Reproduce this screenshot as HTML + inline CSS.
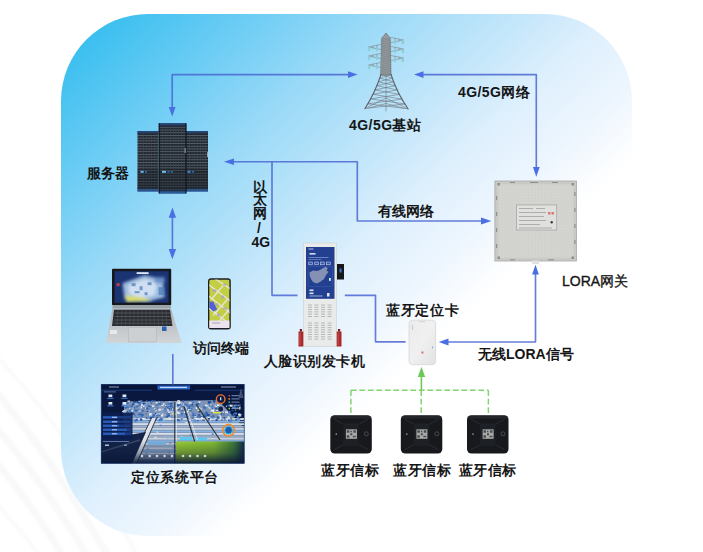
<!DOCTYPE html>
<html><head><meta charset="utf-8">
<style>
html,body{margin:0;padding:0;background:#fff;}
body{width:703px;height:552px;position:relative;overflow:hidden;font-family:"Liberation Sans",sans-serif;}
svg{position:absolute;left:0;top:0;}
.t{position:absolute;white-space:nowrap;font-size:14px;line-height:14px;font-weight:bold;color:#151515;}
</style></head><body>
<svg width="703" height="552" viewBox="0 0 703 552">
<defs>
<linearGradient id="bg" gradientUnits="userSpaceOnUse" x1="0" y1="0" x2="474.6" y2="514.5">
<stop offset="0.114" stop-color="#37beef"/>
<stop offset="0.133" stop-color="#3ec0f0"/>
<stop offset="0.311" stop-color="#80d2f6"/>
<stop offset="0.377" stop-color="#98d9f7"/>
<stop offset="0.55" stop-color="#cce9fb"/>
<stop offset="0.614" stop-color="#dff0fd"/>
<stop offset="0.706" stop-color="#eef6fe"/>
<stop offset="0.739" stop-color="#f6fafe"/>
<stop offset="0.782" stop-color="#ffffff"/>
</linearGradient>

<pattern id="rackgrid" patternUnits="userSpaceOnUse" width="2.7" height="2.7">
<rect width="2.7" height="2.7" fill="#1e242b"/>
<rect x="0" y="0" width="2.7" height="0.75" fill="#646e7a"/>
<rect x="0" y="0" width="0.6" height="2.7" fill="#424b56"/>
</pattern>
<linearGradient id="racktop" x1="0" y1="0" x2="0" y2="1">
<stop offset="0" stop-color="#24518f" stop-opacity="1"/>
<stop offset="0.03" stop-color="#1e3660" stop-opacity="0.7"/>
<stop offset="0.07" stop-color="#1a1e23" stop-opacity="0"/>
<stop offset="0.9" stop-color="#1a1e23" stop-opacity="0"/>
<stop offset="1" stop-color="#2a6ac0" stop-opacity="0.95"/>
</linearGradient>
<linearGradient id="lapbase" x1="0" y1="0" x2="0" y2="1">
<stop offset="0" stop-color="#aeb2b6"/>
<stop offset="1" stop-color="#d2d5d8"/>
</linearGradient>
<linearGradient id="scr" x1="0" y1="0" x2="1" y2="1">
<stop offset="0" stop-color="#1b3a8a"/>
<stop offset="1" stop-color="#2c5bb8"/>
</linearGradient>
<linearGradient id="green" x1="0" y1="0" x2="1" y2="0">
<stop offset="0" stop-color="#9ed232"/>
<stop offset="0.55" stop-color="#86c030"/>
<stop offset="0.85" stop-color="#3e7a3a"/>
<stop offset="1" stop-color="#12284a"/>
</linearGradient>
<linearGradient id="vign" x1="0" y1="0" x2="0" y2="1">
<stop offset="0" stop-color="#0a1838" stop-opacity="0"/>
<stop offset="0.55" stop-color="#0a1838" stop-opacity="0.35"/>
<stop offset="1" stop-color="#0a1838" stop-opacity="0.95"/>
</linearGradient>
<filter id="blur1" x="-20%" y="-20%" width="140%" height="140%"><feGaussianBlur stdDeviation="1.6"/></filter>
<filter id="blur05" x="-20%" y="-20%" width="140%" height="140%"><feGaussianBlur stdDeviation="0.6"/></filter>
<linearGradient id="cardg" x1="0" y1="0" x2="1" y2="1">
<stop offset="0" stop-color="#ececec"/>
<stop offset="0.5" stop-color="#f0f0f0"/>
<stop offset="1" stop-color="#e2e2e2"/>
</linearGradient>
<pattern id="speck" patternUnits="userSpaceOnUse" width="3.3" height="2.9">
<rect x="0.4" y="0.6" width="0.6" height="0.6" fill="#b4b4b0" opacity="0.7"/>
<rect x="2.1" y="2" width="0.5" height="0.5" fill="#e6e6e2" opacity="0.8"/>
</pattern>
</defs>
<g fill="none" stroke="#eef0f3" stroke-width="7" opacity="0.42" filter="url(#blur1)">
<path d="M-10,385 C30,430 70,490 110,560"/>
<path d="M-10,420 C25,460 60,510 90,560"/>
<path d="M-10,455 C20,490 45,525 65,560"/>
<path d="M-10,350 C40,400 90,470 140,560" stroke-width="3"/>
<path d="M-10,495 C10,520 30,540 42,560" stroke-width="3"/>
</g>
<rect x="61" y="14" width="571" height="522" rx="87" ry="87" fill="url(#bg)"/>


<g id="server">
<rect x="137.5" y="131" width="21" height="60.5" fill="url(#rackgrid)"/>
<rect x="137.5" y="131" width="21" height="60.5" fill="url(#racktop)"/>
<rect x="186" y="131" width="22" height="60.5" fill="url(#rackgrid)"/>
<rect x="186" y="131" width="22" height="60.5" fill="url(#racktop)"/>
<rect x="159" y="123.2" width="27" height="70.3" fill="url(#rackgrid)"/>
<rect x="159" y="123.2" width="27" height="70.3" fill="url(#racktop)"/>
<rect x="158.6" y="123.2" width="1.2" height="70.3" fill="#11151a"/>
<rect x="185.4" y="123.2" width="1.2" height="70.3" fill="#11151a"/>
<rect x="137.5" y="169" width="21" height="20" fill="#141a20" opacity="0.35"/>
<rect x="159" y="169" width="27" height="22" fill="#141a20" opacity="0.35"/>
<rect x="186" y="169" width="22" height="20" fill="#141a20" opacity="0.35"/>
<rect x="140.5" y="170.8" width="3.2" height="2" fill="#5cb4ee"/>
<rect x="145" y="171" width="2" height="1.6" fill="#2e6ab0"/>
<rect x="162" y="170.8" width="4" height="2" fill="#6cc0f2"/>
<rect x="167.5" y="171" width="2" height="1.6" fill="#2e6ab0"/>
<rect x="171" y="171" width="2" height="1.6" fill="#2e6ab0"/>
<rect x="187.5" y="170.8" width="3" height="2" fill="#3a8ae0"/>
<rect x="192" y="171" width="2" height="1.6" fill="#2e6ab0"/>
<rect x="184.6" y="148" width="1" height="5" fill="#9aa4ac"/>
<rect x="207.3" y="152" width="1" height="5" fill="#c8d0d6"/>
</g>

<g id="tower" fill="none" stroke-linecap="round">
<path d="M382,38 L386,33 L390,38 L391,75 L381,75 Z" fill="#959a9e" stroke="#6a7074" stroke-width="0.7"/>
<path d="M381.2,38.0 L390.8,40.2 M381.2,40.2 L390.8,38.0 M381.2,40.2 L390.8,42.4 M381.2,42.4 L390.8,40.2 M381.2,42.4 L390.8,44.6 M381.2,44.6 L390.8,42.4 M381.2,44.6 L390.8,46.8 M381.2,46.8 L390.8,44.6 M381.2,46.8 L390.8,49.0 M381.2,49.0 L390.8,46.8 M381.2,49.0 L390.8,51.2 M381.2,51.2 L390.8,49.0 M381.2,51.2 L390.8,53.4 M381.2,53.4 L390.8,51.2 M381.2,53.4 L390.8,55.6 M381.2,55.6 L390.8,53.4 M381.2,55.6 L390.8,57.8 M381.2,57.8 L390.8,55.6 M381.2,57.8 L390.8,60.0 M381.2,60.0 L390.8,57.8 M381.2,60.0 L390.8,62.2 M381.2,62.2 L390.8,60.0 M381.2,62.2 L390.8,64.4 M381.2,64.4 L390.8,62.2 M381.2,64.4 L390.8,66.6 M381.2,66.6 L390.8,64.4 M381.2,66.6 L390.8,68.8 M381.2,68.8 L390.8,66.6 M381.2,68.8 L390.8,71.0 M381.2,71.0 L390.8,68.8 M381.2,71.0 L390.8,73.2 M381.2,73.2 L390.8,71.0 M381.2,73.2 L390.8,75.4 M381.2,75.4 L390.8,73.2" stroke="#7b8185" stroke-width="0.45"/>
<path d="M391,37.5 L403.5,40.0 L391,42.5 M395,38.3 L395,41.7 M399,39.1 L399,40.9 M391,46.5 L403.5,49.0 L391,51.5 M395,47.3 L395,50.7 M399,48.1 L399,49.9 M391,55.5 L403.5,58.0 L391,60.5 M395,56.3 L395,59.7 M399,57.1 L399,58.9 M381,44.5 L368.5,47.0 L381,49.5 M377,45.3 L377,48.7 M373,46.1 L373,47.9 M381,53.5 L368.5,56.0 L381,58.5 M377,54.3 L377,57.7 M373,55.1 L373,56.9 M381,62.5 L368.5,65.0 L381,67.5 M377,63.3 L377,66.7 M373,64.1 L373,65.9" stroke="#7d8488" stroke-width="0.6"/>
<g fill="#8fd0d8" stroke="none"><rect x="401.6" y="40.3" width="2.6" height="4" rx="1.2"/><rect x="394" y="41.0" width="2.2" height="3.2" rx="1"/><rect x="401.6" y="49.3" width="2.6" height="4" rx="1.2"/><rect x="394" y="50.0" width="2.2" height="3.2" rx="1"/><rect x="401.6" y="58.3" width="2.6" height="4" rx="1.2"/><rect x="394" y="59.0" width="2.2" height="3.2" rx="1"/><rect x="367.8" y="47.3" width="2.6" height="4" rx="1.2"/><rect x="375.8" y="48.0" width="2.2" height="3.2" rx="1"/><rect x="367.8" y="56.3" width="2.6" height="4" rx="1.2"/><rect x="375.8" y="57.0" width="2.2" height="3.2" rx="1"/><rect x="367.8" y="65.3" width="2.6" height="4" rx="1.2"/><rect x="375.8" y="66.0" width="2.2" height="3.2" rx="1"/></g>
<path d="M386,74.5 L386,111 M381.0,74.5 L392.3,78.2 M391.0,74.5 L379.8,78.2 M379.8,78.2 L393.6,81.8 M392.3,78.2 L378.4,81.8 M378.4,81.8 L395.2,85.7 M393.6,81.8 L376.9,85.7 M376.9,85.7 L397.1,89.9 M395.2,85.7 L375.1,89.9 M375.1,89.9 L399.3,94.4 M397.1,89.9 L373.0,94.3 M373.0,94.3 L401.9,99.1 M399.3,94.4 L370.6,98.9 M370.6,98.9 L404.8,104.0 M401.9,99.1 L367.9,103.8 M367.9,103.8 L408.0,108.8 M404.8,104.0 L365.0,108.5 M386,98 L365,108.5 M386,98 L408,108.8 M386,103.5 L369,108 M386,103.5 L404,108.3" stroke="#6f767b" stroke-width="0.6"/><path d="M381,74.5 Q375,93 365,108.5 M391,74.5 Q397,93 408,108.8" stroke="#5e6469" stroke-width="1.1" fill="none"/>
</g>

<g id="laptop">
<rect x="112" y="268.8" width="59.2" height="36.4" fill="#17181c" rx="1"/>
<rect x="114.6" y="271.2" width="54" height="31.6" fill="#1a3372"/>
<svg x="114.6" y="271.2" width="54" height="31.6" overflow="hidden">
<g filter="url(#blur1)">
<path d="M8,12 L30,4 L48,8 L50,26 L30,31 L10,28 Z" fill="#9fbde0"/>
<path d="M14,14 L30,8 L42,12 L40,24 L24,27 L14,22 Z" fill="#d0e0f2"/>
<path d="M10,24 L28,26 L38,30 L12,31 Z" fill="#d8dc70"/>
<rect x="40" y="6" width="10" height="6" fill="#6a90c8"/>
</g>
<rect x="22" y="1" width="12" height="1.8" fill="#e0e8f8"/>
<rect x="2" y="12" width="3" height="3" fill="#c04050"/>
<g fill="#4a78b8" opacity="0.7"><rect x="17" y="12" width="4" height="3"/><rect x="25" y="15" width="3" height="4"/><rect x="33" y="11" width="4" height="3"/><rect x="20" y="20" width="5" height="2"/><rect x="30" y="21" width="3" height="3"/><rect x="44" y="16" width="6" height="8"/></g>
</svg>
<path d="M112.6,305.2 L170.8,305.2 L171,308.5 L112.4,308.5 Z" fill="#9ea2a6"/>
<path d="M112.4,308.5 L171,308.5 L181.6,343 L106.2,343 Z" fill="url(#lapbase)"/>
<path d="M114,309.8 L170,309.8 L172.5,326 L112,326 Z" fill="#2a2c31"/>
<path d="M115,313 L170.5,313 M114.6,316.5 L171,316.5 M114,320 L171.6,320 M113.5,323.2 L172,323.2" stroke="#6a6e74" stroke-width="0.6"/><path d="M118,310 L117,326 M122,310 L121.5,326 M126,310 L125.5,326 M130,310 L129.7,326 M134,310 L133.8,326 M138,310 L137.9,326 M142,310 L142,326 M146,310 L146.1,326 M150,310 L150.2,326 M154,310 L154.3,326 M158,310 L158.5,326 M162,310 L162.6,326 M166,310 L166.8,326" stroke="#55595f" stroke-width="0.5"/>
<rect x="128.5" y="327.5" width="27.7" height="14.5" fill="#cdd0d3" stroke="#b0b3b7" stroke-width="0.5"/>
<rect x="110" y="330" width="7" height="4" fill="#e6e8ea"/>
<rect x="162" y="326.5" width="4.5" height="4.5" fill="#2b5fb0"/>
</g>

<g id="phone">
<rect x="208" y="278.2" width="22.8" height="51.2" rx="3" fill="#1e1f24"/>
<svg x="209.2" y="279.5" width="20.4" height="48.6" overflow="hidden">
<rect width="20.4" height="48.6" rx="2" fill="#c2cf42"/>
<g stroke="#ece8f0" stroke-width="1.4" opacity="0.85">
<path d="M-2,4 L22,22 M-4,14 L22,34 M-4,26 L20,44 M4,-2 L22,10"/>
<path d="M2,20 L14,6 M4,36 L18,20 M8,44 L20,30"/>
</g>
<g fill="#a8a0c8" opacity="0.8">
<rect x="3" y="10" width="4" height="2"/><rect x="12" y="16" width="3" height="3"/><rect x="6" y="24" width="3" height="2"/><rect x="14" y="28" width="4" height="2"/><rect x="8" y="34" width="3" height="3"/><rect x="14" y="4" width="3" height="2"/>
</g>
<path d="M0,22 L4,22 L8,30 L4,32 L0,28 Z" fill="#5060d8"/>
<rect x="0" y="41" width="20.4" height="7.6" fill="#ece4ee"/>
<rect x="3" y="43" width="8" height="1" fill="#b0a0b8"/>
</svg>
</g>
<g id="kiosk">
<rect x="303.4" y="243" width="33.1" height="103.6" fill="#e9eaea" stroke="#cdd0d0" stroke-width="0.6"/>
<rect x="306" y="247" width="28.5" height="51.8" fill="#22408f"/>
<rect x="308.5" y="248.5" width="5" height="1" fill="#b8c6e8"/>
<rect x="309.5" y="253" width="6" height="1.6" fill="#d0dcf4"/>
<rect x="308.5" y="257" width="20" height="0.8" fill="#7d94cc"/>
<rect x="308.5" y="259" width="13" height="0.6" fill="#7d94cc"/>
<g fill="#3a58a8" stroke="#e5eaf5" stroke-width="0.5">
<rect x="308.8" y="262" width="3.6" height="2.8"/>
<rect x="314.8" y="262" width="3.6" height="2.8"/>
<rect x="320.6" y="262" width="3.6" height="2.8"/>
<rect x="326.6" y="262" width="3.6" height="2.8"/>
</g>
<rect x="308" y="266.5" width="24.5" height="20" rx="1.5" fill="none" stroke="#3f5fae" stroke-width="0.5"/>
<path d="M309.5,272.5 L313,270.5 L317,271 L320,270 L323,268 L326,266.8 L327.8,268.5 L326.5,270.5 L328.5,272 L326,275 L324,279 L320,282 L316.5,283.5 L313,282 L311,279 L309.8,276 Z" fill="#8591b4"/>
<rect x="329" y="278" width="1.8" height="2.8" fill="#e8eef8"/>
<rect x="309.5" y="289.5" width="4" height="1.6" fill="#dce4f4"/>
<rect x="309.5" y="292.5" width="4" height="1.6" fill="#dce4f4"/>
<rect x="309.5" y="295.5" width="13" height="1" fill="#9fb0dc"/>
<rect x="327" y="293" width="2.5" height="3.5" fill="#dfe6f4"/>
<rect x="337" y="264" width="7" height="15.5" fill="#15171b"/>
<rect x="339.5" y="268.5" width="2" height="4" fill="#3a7ad0"/>
<g stroke="#aeb2b4" stroke-width="0.9">
<path d="M308,305 H312 M308,307.3 H312 M308,309.6 H312 M308,311.9 H312 M308,314.2 H312 M308,316.5 H312 M308,323 H312 M308,325.3 H312 M308,327.6 H312 M308,329.9 H312 M308,332.2 H312 M308,334.5 H312 M308,336.8 H312 M308,339.1 H312"/>
<path transform="translate(6.4,0)" d="M308,305 H312 M308,307.3 H312 M308,309.6 H312 M308,311.9 H312 M308,314.2 H312 M308,316.5 H312 M308,323 H312 M308,325.3 H312 M308,327.6 H312 M308,329.9 H312 M308,332.2 H312 M308,334.5 H312 M308,336.8 H312 M308,339.1 H312"/>
<path transform="translate(13,0)" d="M308,305 H312 M308,307.3 H312 M308,309.6 H312 M308,311.9 H312 M308,314.2 H312 M308,316.5 H312 M308,323 H312 M308,325.3 H312 M308,327.6 H312 M308,329.9 H312 M308,332.2 H312 M308,334.5 H312 M308,336.8 H312 M308,339.1 H312"/>
<path transform="translate(19.6,0)" d="M308,305 H312 M308,307.3 H312 M308,309.6 H312 M308,311.9 H312 M308,314.2 H312 M308,316.5 H312 M308,323 H312 M308,325.3 H312 M308,327.6 H312 M308,329.9 H312 M308,332.2 H312 M308,334.5 H312 M308,336.8 H312 M308,339.1 H312"/>
</g>
<path d="M298.5,331.5 h4.8 v15 h-4.8 Z M336.7,331.5 h4.8 v15 h-4.8 Z" fill="#a82a2a"/>
<path d="M299.8,329 h2.2 v2.5 h-2.2 Z M338,329 h2.2 v2.5 h-2.2 Z" fill="#7a1c1c"/>
<path d="M299.5,333 h1 v12 h-1 Z M337.7,333 h1 v12 h-1 Z" fill="#d05050"/>
</g>
<g id="gateway">
<rect x="494.9" y="181" width="81.7" height="80" fill="#c9c9c5" stroke="#a8a8a4" stroke-width="0.8"/>
<rect x="498.3" y="184.3" width="75" height="73.4" fill="#d3d3d0"/>
<rect x="494.9" y="181" width="81.7" height="80" fill="url(#speck)"/>
<g fill="#8e8e8a">
<rect x="497.5" y="183" width="2.5" height="2.5"/><rect x="571.5" y="183" width="2.5" height="2.5"/>
<rect x="497.5" y="256.5" width="2.5" height="2.5"/><rect x="571.5" y="256.5" width="2.5" height="2.5"/>
<rect x="496" y="196" width="1.2" height="4"/><rect x="496" y="212" width="1.2" height="4"/><rect x="496" y="228" width="1.2" height="4"/><rect x="496" y="244" width="1.2" height="4"/>
<rect x="574.3" y="192" width="1.2" height="4"/><rect x="574.3" y="208" width="1.2" height="4"/><rect x="574.3" y="224" width="1.2" height="4"/><rect x="574.3" y="240" width="1.2" height="4"/>
<rect x="510" y="182" width="5" height="1"/><rect x="530" y="182" width="8" height="1"/><rect x="552" y="182" width="6" height="1"/>
<rect x="510" y="259.3" width="5" height="1"/><rect x="548" y="259.3" width="6" height="1"/>
</g>
<rect x="516.4" y="205" width="40.4" height="25" fill="#e0e0de" stroke="#8a8a88" stroke-width="0.5"/>
<path d="M519,208.5 H533 M536,208.5 H545 M519,212.5 H546 M519,216.5 H544 M519,220.5 H546 M519,224.5 H540 M519,228 H552" stroke="#7a7a7a" stroke-width="0.5"/>
<rect x="548" y="212" width="2.5" height="2.5" fill="#d97a70"/>
<rect x="551.5" y="212" width="2.5" height="2.5" fill="#d97a70"/>
<circle cx="551.7" cy="222.3" r="1.2" fill="#3a3a3a"/>
<rect x="532" y="260.5" width="7" height="3.5" fill="#e2e2e2"/>
</g>
<g id="card">
<rect x="409" y="320.2" width="26.6" height="44.5" rx="3.5" fill="url(#cardg)" stroke="#d2d2d2" stroke-width="0.7"/>
<rect x="419" y="321.2" width="6" height="0.9" fill="#d0d0d0"/>
<rect x="412" y="325" width="1" height="5" fill="#c8c8c8"/>
<rect x="421.3" y="351.5" width="2.2" height="2" fill="#e07878"/>
<rect x="432" y="346.5" width="1" height="2" fill="#8ab0d8"/>
</g>
<g transform="translate(330.3,415.3)">
<rect x="0" y="0" width="41.5" height="38.3" rx="4.5" fill="#17191d"/>
<path d="M4,4 L13,9 L28.5,9 L37.5,4 M4,34.3 L13,29.5 L28.5,29.5 L37.5,34.3" stroke="#2c2f35" stroke-width="0.9" fill="none"/>
<rect x="13" y="9" width="15.5" height="20.5" fill="#1d2025"/>
<rect x="15.6" y="14" width="11" height="9.5" fill="#a9aba9"/>
<path d="M16.5,15 h2.5 v2.5 h-2.5 Z M23,15 h2.5 v2.5 h-2.5 Z M16.5,20 h2.5 v2.5 h-2.5 Z M20,18 h2 v2 h-2 Z M22.5,20.5 h3 v1.5 h-3 Z M20,15.5 h1.5 v1.5 h-1.5 Z" fill="#4a4c50"/>
<circle cx="6" cy="18.8" r="0.9" fill="#8a8c90"/>
<circle cx="36" cy="18.5" r="2" fill="none" stroke="#5a5c60" stroke-width="0.7"/>
<rect x="0.5" y="0.5" width="40.5" height="3" rx="2" fill="#2a2d33" opacity="0.6"/>
</g>
<g transform="translate(400.8,415.3)">
<rect x="0" y="0" width="41.5" height="38.3" rx="4.5" fill="#17191d"/>
<path d="M4,4 L13,9 L28.5,9 L37.5,4 M4,34.3 L13,29.5 L28.5,29.5 L37.5,34.3" stroke="#2c2f35" stroke-width="0.9" fill="none"/>
<rect x="13" y="9" width="15.5" height="20.5" fill="#1d2025"/>
<rect x="15.6" y="14" width="11" height="9.5" fill="#a9aba9"/>
<path d="M16.5,15 h2.5 v2.5 h-2.5 Z M23,15 h2.5 v2.5 h-2.5 Z M16.5,20 h2.5 v2.5 h-2.5 Z M20,18 h2 v2 h-2 Z M22.5,20.5 h3 v1.5 h-3 Z M20,15.5 h1.5 v1.5 h-1.5 Z" fill="#4a4c50"/>
<circle cx="6" cy="18.8" r="0.9" fill="#8a8c90"/>
<circle cx="36" cy="18.5" r="2" fill="none" stroke="#5a5c60" stroke-width="0.7"/>
<rect x="0.5" y="0.5" width="40.5" height="3" rx="2" fill="#2a2d33" opacity="0.6"/>
</g>
<g transform="translate(467,415.3)">
<rect x="0" y="0" width="41.5" height="38.3" rx="4.5" fill="#17191d"/>
<path d="M4,4 L13,9 L28.5,9 L37.5,4 M4,34.3 L13,29.5 L28.5,29.5 L37.5,34.3" stroke="#2c2f35" stroke-width="0.9" fill="none"/>
<rect x="13" y="9" width="15.5" height="20.5" fill="#1d2025"/>
<rect x="15.6" y="14" width="11" height="9.5" fill="#a9aba9"/>
<path d="M16.5,15 h2.5 v2.5 h-2.5 Z M23,15 h2.5 v2.5 h-2.5 Z M16.5,20 h2.5 v2.5 h-2.5 Z M20,18 h2 v2 h-2 Z M22.5,20.5 h3 v1.5 h-3 Z M20,15.5 h1.5 v1.5 h-1.5 Z" fill="#4a4c50"/>
<circle cx="6" cy="18.8" r="0.9" fill="#8a8c90"/>
<circle cx="36" cy="18.5" r="2" fill="none" stroke="#5a5c60" stroke-width="0.7"/>
<rect x="0.5" y="0.5" width="40.5" height="3" rx="2" fill="#2a2d33" opacity="0.6"/>
</g>

<g id="dash">
<rect x="101.2" y="384.3" width="143" height="79" fill="#0a1840"/>
<svg x="101.2" y="384.3" width="143" height="79" overflow="hidden"><g transform="translate(-101.2,-384.3)">
<path d="M124,402 L218,400 L246,430 L246,464 L124,464 Z" fill="#7f93b4"/>
<g><rect x="128" y="418.0" width="118" height="2.0" fill="#c9d1dc"/><rect x="128" y="420.8" width="118" height="1.6" fill="#86b2e0"/><rect x="128" y="423.2" width="118" height="1.8" fill="#d9dfe8"/><rect x="128" y="425.8" width="118" height="1.2" fill="#9fb0c8"/><rect x="128" y="427.8" width="118" height="2.0" fill="#c9d1dc"/><rect x="128" y="430.6" width="118" height="1.6" fill="#86b2e0"/><rect x="128" y="433.0" width="118" height="1.8" fill="#d9dfe8"/><rect x="128" y="435.6" width="118" height="1.2" fill="#9fb0c8"/><rect x="128" y="437.6" width="118" height="2.0" fill="#c9d1dc"/><rect x="128" y="440.4" width="118" height="1.6" fill="#86b2e0"/><rect x="128" y="442.8" width="118" height="1.8" fill="#d9dfe8"/><rect x="128" y="445.4" width="118" height="1.2" fill="#9fb0c8"/><rect x="128" y="447.4" width="118" height="2.0" fill="#c9d1dc"/><rect x="128" y="450.2" width="118" height="1.6" fill="#86b2e0"/><rect x="128" y="452.6" width="118" height="1.8" fill="#d9dfe8"/><rect x="128" y="455.2" width="118" height="1.2" fill="#9fb0c8"/><rect x="128" y="457.2" width="118" height="2.0" fill="#c9d1dc"/><rect x="128" y="460.0" width="118" height="1.6" fill="#86b2e0"/><rect x="128" y="462.4" width="118" height="1.8" fill="#d9dfe8"/></g>
<g filter="url(#blur05)"><rect x="175.4" y="411.2" width="2.8" height="1.5" fill="#e2eaf2"/><rect x="191.3" y="403.7" width="1.9" height="1.7" fill="#1f4a98"/><rect x="133.1" y="406.1" width="1.0" height="1.9" fill="#b8c4d4"/><rect x="126.9" y="419.6" width="2.9" height="1.7" fill="#b8c4d4"/><rect x="140.6" y="400.3" width="2.0" height="0.9" fill="#2f62b0"/><rect x="150.5" y="400.6" width="1.8" height="1.4" fill="#1f4a98"/><rect x="183.3" y="412.8" width="1.9" height="1.7" fill="#5a8ad0"/><rect x="154.8" y="420.0" width="3.0" height="2.0" fill="#b8c4d4"/><rect x="159.2" y="404.6" width="1.4" height="0.9" fill="#1f4a98"/><rect x="169.2" y="416.9" width="1.7" height="2.1" fill="#f4f6fa"/><rect x="122.1" y="404.2" width="2.8" height="1.5" fill="#7aa0d0"/><rect x="168.9" y="401.5" width="2.2" height="1.9" fill="#3f74c0"/><rect x="132.3" y="406.7" width="2.9" height="1.9" fill="#2f62b0"/><rect x="151.1" y="402.0" width="0.9" height="1.9" fill="#2f62b0"/><rect x="188.0" y="408.9" width="1.2" height="1.8" fill="#2f62b0"/><rect x="198.0" y="402.3" width="1.7" height="1.1" fill="#3f74c0"/><rect x="236.6" y="416.1" width="1.5" height="2.0" fill="#3f74c0"/><rect x="168.5" y="417.1" width="2.2" height="0.9" fill="#d8e070"/><rect x="147.2" y="405.2" width="2.5" height="1.3" fill="#3f74c0"/><rect x="130.7" y="401.8" width="2.1" height="1.1" fill="#e2eaf2"/><rect x="165.9" y="409.1" width="2.9" height="1.5" fill="#e2eaf2"/><rect x="140.2" y="418.2" width="2.6" height="1.1" fill="#2f62b0"/><rect x="209.3" y="418.8" width="1.2" height="2.1" fill="#f4f6fa"/><rect x="193.2" y="408.4" width="1.0" height="0.9" fill="#7aa0d0"/><rect x="150.1" y="414.1" width="1.4" height="2.0" fill="#e2eaf2"/><rect x="156.6" y="403.5" width="2.4" height="0.9" fill="#3f74c0"/><rect x="188.0" y="417.0" width="2.2" height="1.2" fill="#7aa0d0"/><rect x="146.1" y="400.3" width="1.4" height="1.4" fill="#2f62b0"/><rect x="142.8" y="407.4" width="2.1" height="1.0" fill="#3f74c0"/><rect x="227.1" y="419.6" width="2.2" height="1.8" fill="#e2eaf2"/><rect x="138.6" y="400.7" width="0.8" height="2.1" fill="#b8c4d4"/><rect x="197.1" y="409.6" width="2.4" height="1.2" fill="#d8e070"/><rect x="130.9" y="410.9" width="2.4" height="2.1" fill="#1f4a98"/><rect x="205.0" y="415.9" width="2.8" height="1.3" fill="#b8c4d4"/><rect x="228.3" y="417.4" width="1.7" height="1.9" fill="#f4f6fa"/><rect x="189.6" y="412.5" width="1.6" height="1.6" fill="#b8c4d4"/><rect x="131.5" y="412.8" width="3.0" height="2.0" fill="#1f4a98"/><rect x="167.8" y="414.7" width="2.1" height="1.4" fill="#1f4a98"/><rect x="131.9" y="415.0" width="0.9" height="1.6" fill="#5a8ad0"/><rect x="149.2" y="414.0" width="1.9" height="1.7" fill="#7aa0d0"/><rect x="152.2" y="400.2" width="1.5" height="1.7" fill="#3f74c0"/><rect x="142.0" y="418.1" width="2.3" height="1.4" fill="#f4f6fa"/><rect x="160.6" y="413.3" width="1.2" height="1.4" fill="#1f4a98"/><rect x="229.9" y="417.6" width="1.6" height="1.6" fill="#3f74c0"/><rect x="138.1" y="409.9" width="2.6" height="2.0" fill="#b8c4d4"/><rect x="234.1" y="405.5" width="1.2" height="1.4" fill="#3f74c0"/><rect x="147.3" y="408.3" width="2.2" height="1.5" fill="#3f74c0"/><rect x="221.0" y="419.6" width="1.8" height="0.9" fill="#2f62b0"/><rect x="205.6" y="411.4" width="1.5" height="1.9" fill="#2f62b0"/><rect x="138.0" y="409.1" width="0.9" height="2.0" fill="#3f74c0"/><rect x="138.6" y="400.9" width="2.2" height="1.4" fill="#b8c4d4"/><rect x="199.3" y="416.1" width="2.9" height="1.8" fill="#2f62b0"/><rect x="178.1" y="403.6" width="0.8" height="1.5" fill="#b8c4d4"/><rect x="143.1" y="405.4" width="1.6" height="1.8" fill="#e2eaf2"/><rect x="194.5" y="415.1" width="1.7" height="1.9" fill="#f4f6fa"/><rect x="132.3" y="418.7" width="2.4" height="1.0" fill="#5a8ad0"/><rect x="195.8" y="418.2" width="1.6" height="1.6" fill="#f4f6fa"/><rect x="216.0" y="418.9" width="1.8" height="1.7" fill="#3f74c0"/><rect x="207.2" y="416.4" width="2.2" height="1.8" fill="#3f74c0"/><rect x="228.2" y="419.6" width="3.0" height="1.6" fill="#1f4a98"/><rect x="159.8" y="418.2" width="2.7" height="1.3" fill="#2f62b0"/><rect x="174.0" y="411.0" width="2.5" height="1.5" fill="#2f62b0"/><rect x="161.5" y="415.8" width="1.1" height="1.0" fill="#e2eaf2"/><rect x="207.4" y="416.8" width="2.3" height="2.1" fill="#e2eaf2"/><rect x="148.1" y="410.5" width="1.4" height="1.8" fill="#b8c4d4"/><rect x="183.7" y="416.9" width="2.0" height="1.2" fill="#5a8ad0"/><rect x="221.7" y="418.0" width="1.3" height="2.0" fill="#7aa0d0"/><rect x="183.9" y="411.5" width="1.2" height="1.6" fill="#e2eaf2"/><rect x="193.4" y="400.6" width="2.9" height="1.5" fill="#5a8ad0"/><rect x="216.5" y="411.3" width="1.9" height="1.8" fill="#2f62b0"/><rect x="185.6" y="408.3" width="2.9" height="2.1" fill="#3f74c0"/><rect x="177.8" y="402.5" width="1.8" height="1.9" fill="#f4f6fa"/><rect x="178.2" y="406.3" width="1.2" height="1.7" fill="#7aa0d0"/><rect x="137.3" y="415.6" width="0.9" height="1.1" fill="#3f74c0"/><rect x="203.1" y="406.4" width="1.6" height="1.7" fill="#2f62b0"/><rect x="208.2" y="402.5" width="1.9" height="1.2" fill="#2f62b0"/><rect x="184.6" y="408.7" width="1.6" height="1.4" fill="#e2eaf2"/><rect x="140.8" y="404.1" width="2.2" height="1.7" fill="#e2eaf2"/><rect x="222.4" y="412.2" width="2.7" height="1.1" fill="#1f4a98"/><rect x="217.6" y="418.1" width="1.5" height="1.2" fill="#7aa0d0"/><rect x="147.7" y="420.0" width="2.8" height="1.0" fill="#3f74c0"/><rect x="207.7" y="405.2" width="1.0" height="2.0" fill="#5a8ad0"/><rect x="169.5" y="413.7" width="0.8" height="1.1" fill="#b8c4d4"/><rect x="229.5" y="419.4" width="1.1" height="1.5" fill="#1f4a98"/><rect x="181.3" y="413.7" width="1.2" height="0.9" fill="#2f62b0"/><rect x="126.4" y="411.0" width="1.9" height="1.6" fill="#2f62b0"/><rect x="143.8" y="404.1" width="2.6" height="2.2" fill="#7aa0d0"/><rect x="133.2" y="401.2" width="2.9" height="1.4" fill="#1f4a98"/><rect x="160.6" y="409.3" width="1.9" height="1.4" fill="#e2eaf2"/><rect x="123.6" y="414.0" width="2.7" height="1.1" fill="#5a8ad0"/><rect x="209.2" y="408.1" width="1.2" height="1.0" fill="#e2eaf2"/><rect x="123.8" y="417.9" width="2.6" height="1.8" fill="#f4f6fa"/><rect x="196.3" y="408.1" width="2.1" height="1.5" fill="#7aa0d0"/><rect x="217.0" y="405.2" width="2.8" height="1.8" fill="#1f4a98"/><rect x="218.1" y="408.1" width="2.8" height="2.0" fill="#b8c4d4"/><rect x="212.5" y="415.3" width="1.7" height="1.8" fill="#2f62b0"/><rect x="162.3" y="409.4" width="0.8" height="1.3" fill="#b8c4d4"/><rect x="195.6" y="404.6" width="2.9" height="1.7" fill="#3f74c0"/><rect x="199.9" y="411.4" width="2.0" height="1.3" fill="#d8e070"/><rect x="197.8" y="414.0" width="2.5" height="2.2" fill="#2f62b0"/><rect x="194.6" y="414.8" width="1.4" height="1.4" fill="#2f62b0"/><rect x="145.1" y="407.5" width="1.0" height="1.2" fill="#f4f6fa"/><rect x="186.9" y="410.2" width="2.9" height="1.6" fill="#d8e070"/><rect x="197.3" y="416.2" width="1.0" height="1.6" fill="#1f4a98"/><rect x="127.3" y="418.6" width="1.2" height="1.5" fill="#2f62b0"/><rect x="180.5" y="412.2" width="0.9" height="2.1" fill="#5a8ad0"/><rect x="184.2" y="412.0" width="1.6" height="1.2" fill="#b8c4d4"/><rect x="188.2" y="405.7" width="2.4" height="1.2" fill="#2f62b0"/><rect x="150.9" y="400.9" width="1.1" height="1.9" fill="#5a8ad0"/><rect x="227.9" y="415.0" width="0.9" height="2.2" fill="#7aa0d0"/><rect x="130.7" y="418.1" width="1.7" height="1.5" fill="#7aa0d0"/><rect x="150.8" y="410.5" width="2.9" height="1.8" fill="#5a8ad0"/><rect x="237.5" y="416.3" width="2.1" height="1.0" fill="#b8c4d4"/><rect x="175.8" y="404.1" width="0.9" height="1.5" fill="#2f62b0"/><rect x="174.3" y="413.4" width="1.8" height="1.2" fill="#e2eaf2"/><rect x="171.5" y="415.6" width="2.0" height="2.2" fill="#7aa0d0"/><rect x="208.6" y="404.8" width="1.1" height="2.0" fill="#1f4a98"/><rect x="195.7" y="407.2" width="1.4" height="1.8" fill="#e2eaf2"/><rect x="191.8" y="412.7" width="2.5" height="1.1" fill="#3f74c0"/><rect x="237.6" y="418.3" width="2.7" height="0.9" fill="#2f62b0"/><rect x="154.0" y="408.5" width="2.2" height="0.9" fill="#e2eaf2"/><rect x="130.6" y="401.7" width="2.3" height="1.6" fill="#b8c4d4"/><rect x="166.0" y="409.6" width="1.3" height="1.3" fill="#1f4a98"/><rect x="136.1" y="416.2" width="2.2" height="1.9" fill="#3f74c0"/><rect x="172.1" y="405.2" width="2.6" height="1.3" fill="#b8c4d4"/><rect x="238.7" y="406.5" width="2.0" height="1.8" fill="#7aa0d0"/><rect x="172.5" y="407.4" width="1.0" height="2.0" fill="#2f62b0"/><rect x="131.8" y="411.3" width="1.9" height="1.8" fill="#3f74c0"/><rect x="213.5" y="401.5" width="1.3" height="1.7" fill="#2f62b0"/><rect x="157.8" y="414.5" width="2.3" height="1.2" fill="#2f62b0"/><rect x="164.2" y="414.5" width="1.6" height="1.0" fill="#b8c4d4"/><rect x="189.2" y="418.4" width="2.9" height="2.1" fill="#5a8ad0"/><rect x="216.8" y="406.1" width="1.5" height="1.4" fill="#7aa0d0"/><rect x="227.6" y="405.0" width="1.6" height="1.3" fill="#5a8ad0"/><rect x="168.7" y="407.8" width="1.2" height="1.6" fill="#1f4a98"/><rect x="185.8" y="416.7" width="2.0" height="1.0" fill="#1f4a98"/><rect x="225.9" y="405.6" width="0.8" height="1.5" fill="#e2eaf2"/><rect x="189.0" y="419.3" width="2.2" height="1.9" fill="#2f62b0"/><rect x="186.5" y="415.8" width="1.0" height="0.9" fill="#1f4a98"/><rect x="196.8" y="402.9" width="2.4" height="1.7" fill="#3f74c0"/><rect x="148.0" y="415.3" width="1.9" height="1.9" fill="#5a8ad0"/><rect x="161.9" y="419.4" width="2.3" height="1.5" fill="#e2eaf2"/><rect x="207.1" y="414.2" width="2.8" height="1.4" fill="#1f4a98"/><rect x="200.7" y="417.1" width="2.6" height="2.0" fill="#f4f6fa"/><rect x="235.0" y="412.8" width="2.0" height="1.8" fill="#1f4a98"/><rect x="171.8" y="408.4" width="1.1" height="1.8" fill="#d8e070"/><rect x="166.3" y="403.4" width="1.2" height="1.4" fill="#3f74c0"/><rect x="158.4" y="402.3" width="2.2" height="1.9" fill="#2f62b0"/><rect x="129.4" y="409.2" width="2.1" height="2.1" fill="#2f62b0"/><rect x="134.8" y="403.7" width="1.3" height="1.1" fill="#b8c4d4"/><rect x="192.2" y="404.5" width="1.2" height="1.2" fill="#2f62b0"/><rect x="211.4" y="406.2" width="2.0" height="1.9" fill="#5a8ad0"/><rect x="152.7" y="417.7" width="2.8" height="1.3" fill="#e2eaf2"/><rect x="234.9" y="409.7" width="1.3" height="0.9" fill="#7aa0d0"/><rect x="216.6" y="407.7" width="2.0" height="1.5" fill="#3f74c0"/><rect x="238.8" y="413.2" width="1.3" height="0.8" fill="#5a8ad0"/><rect x="165.8" y="415.9" width="2.4" height="1.6" fill="#2f62b0"/><rect x="140.5" y="406.4" width="1.4" height="2.0" fill="#e2eaf2"/><rect x="197.2" y="419.9" width="1.4" height="1.5" fill="#2f62b0"/><rect x="212.9" y="400.0" width="2.6" height="2.0" fill="#1f4a98"/><rect x="131.7" y="405.4" width="2.4" height="0.9" fill="#5a8ad0"/><rect x="177.3" y="419.1" width="2.1" height="2.0" fill="#3f74c0"/><rect x="215.1" y="408.3" width="2.8" height="0.9" fill="#1f4a98"/><rect x="146.6" y="410.9" width="2.0" height="1.0" fill="#1f4a98"/><rect x="158.7" y="406.2" width="1.0" height="1.2" fill="#5a8ad0"/><rect x="206.4" y="407.2" width="2.3" height="0.9" fill="#5a8ad0"/><rect x="176.5" y="419.3" width="2.6" height="1.7" fill="#2f62b0"/><rect x="166.5" y="414.2" width="1.3" height="1.6" fill="#5a8ad0"/><rect x="123.2" y="419.8" width="2.6" height="1.1" fill="#b8c4d4"/><rect x="156.3" y="407.5" width="2.0" height="1.2" fill="#3f74c0"/><rect x="168.3" y="413.3" width="1.4" height="1.1" fill="#1f4a98"/><rect x="160.9" y="418.9" width="2.0" height="1.8" fill="#3f74c0"/><rect x="138.6" y="401.9" width="2.3" height="1.8" fill="#2f62b0"/><rect x="169.5" y="416.7" width="2.1" height="0.9" fill="#3f74c0"/><rect x="140.5" y="402.5" width="1.7" height="0.9" fill="#7aa0d0"/><rect x="172.4" y="410.2" width="2.2" height="1.9" fill="#1f4a98"/><rect x="167.5" y="406.6" width="1.7" height="0.8" fill="#5a8ad0"/><rect x="204.6" y="419.6" width="2.5" height="1.7" fill="#b8c4d4"/><rect x="124.2" y="406.6" width="1.6" height="1.7" fill="#2f62b0"/><rect x="166.6" y="410.2" width="2.5" height="2.0" fill="#b8c4d4"/><rect x="140.7" y="415.3" width="2.8" height="1.6" fill="#3f74c0"/><rect x="181.0" y="402.8" width="2.4" height="2.2" fill="#e2eaf2"/><rect x="206.4" y="416.7" width="1.2" height="2.1" fill="#b8c4d4"/><rect x="145.4" y="401.7" width="1.3" height="1.6" fill="#b8c4d4"/><rect x="160.8" y="418.6" width="1.6" height="1.4" fill="#2f62b0"/><rect x="228.7" y="410.9" width="2.0" height="1.6" fill="#3f74c0"/><rect x="229.3" y="419.8" width="2.6" height="1.6" fill="#2f62b0"/><rect x="219.3" y="405.8" width="2.8" height="1.1" fill="#e2eaf2"/><rect x="186.6" y="401.5" width="0.9" height="1.1" fill="#7aa0d0"/><rect x="232.9" y="413.2" width="1.5" height="1.7" fill="#1f4a98"/><rect x="167.0" y="411.8" width="2.6" height="0.8" fill="#2f62b0"/><rect x="177.2" y="402.9" width="1.7" height="1.6" fill="#2f62b0"/><rect x="183.3" y="405.3" width="2.0" height="1.3" fill="#b8c4d4"/><rect x="126.5" y="413.4" width="1.1" height="2.1" fill="#e2eaf2"/><rect x="177.4" y="408.2" width="2.2" height="1.8" fill="#1f4a98"/><rect x="210.7" y="409.7" width="3.0" height="2.0" fill="#f4f6fa"/><rect x="170.3" y="408.7" width="2.0" height="2.1" fill="#e2eaf2"/><rect x="184.0" y="408.6" width="2.8" height="1.2" fill="#2f62b0"/><rect x="207.6" y="418.0" width="2.4" height="1.6" fill="#1f4a98"/><rect x="158.0" y="411.9" width="1.0" height="1.0" fill="#5a8ad0"/><rect x="181.3" y="407.9" width="0.9" height="1.8" fill="#e2eaf2"/><rect x="150.2" y="406.1" width="1.7" height="1.1" fill="#2f62b0"/><rect x="229.5" y="419.3" width="2.3" height="2.0" fill="#5a8ad0"/><rect x="217.0" y="404.4" width="2.4" height="1.6" fill="#f4f6fa"/><rect x="133.6" y="415.8" width="1.1" height="1.6" fill="#7aa0d0"/><rect x="122.1" y="404.9" width="1.5" height="1.3" fill="#2f62b0"/><rect x="227.6" y="416.3" width="1.7" height="1.3" fill="#e2eaf2"/><rect x="127.4" y="400.6" width="2.8" height="1.2" fill="#e2eaf2"/><rect x="232.2" y="419.5" width="1.8" height="1.1" fill="#3f74c0"/><rect x="230.9" y="417.9" width="1.2" height="2.0" fill="#3f74c0"/><rect x="177.8" y="403.4" width="2.7" height="2.2" fill="#3f74c0"/><rect x="196.6" y="403.8" width="2.7" height="0.9" fill="#2f62b0"/><rect x="207.6" y="406.3" width="2.8" height="2.0" fill="#b8c4d4"/><rect x="137.9" y="413.9" width="2.9" height="1.4" fill="#2f62b0"/><rect x="148.3" y="406.1" width="2.4" height="1.1" fill="#2f62b0"/><rect x="149.8" y="413.3" width="2.5" height="1.3" fill="#b8c4d4"/><rect x="226.4" y="411.8" width="1.3" height="1.2" fill="#7aa0d0"/><rect x="200.7" y="405.5" width="2.2" height="0.9" fill="#7aa0d0"/><rect x="174.0" y="410.6" width="2.0" height="0.9" fill="#e2eaf2"/><rect x="155.6" y="405.0" width="2.6" height="0.9" fill="#3f74c0"/><rect x="211.2" y="404.9" width="1.4" height="1.6" fill="#2f62b0"/><rect x="227.8" y="419.8" width="0.9" height="1.4" fill="#1f4a98"/><rect x="167.4" y="418.6" width="1.9" height="1.1" fill="#e2eaf2"/><rect x="198.1" y="407.2" width="2.2" height="1.9" fill="#e2eaf2"/><rect x="181.7" y="416.9" width="2.3" height="1.5" fill="#7aa0d0"/><rect x="142.5" y="415.6" width="1.2" height="1.7" fill="#3f74c0"/><rect x="174.0" y="415.5" width="2.5" height="1.9" fill="#3f74c0"/><rect x="179.7" y="404.4" width="2.1" height="1.5" fill="#2f62b0"/><rect x="192.4" y="414.3" width="2.1" height="2.0" fill="#2f62b0"/><rect x="139.9" y="400.4" width="1.9" height="1.4" fill="#5a8ad0"/><rect x="153.0" y="416.0" width="1.0" height="2.1" fill="#e2eaf2"/><rect x="186.1" y="415.8" width="1.3" height="1.0" fill="#3f74c0"/><rect x="127.0" y="406.3" width="2.2" height="1.5" fill="#3f74c0"/><rect x="191.5" y="401.8" width="2.6" height="1.0" fill="#3f74c0"/><rect x="140.9" y="413.8" width="2.6" height="1.9" fill="#2f62b0"/><rect x="170.5" y="407.3" width="1.3" height="2.2" fill="#2f62b0"/><rect x="179.8" y="415.2" width="3.0" height="1.0" fill="#5a8ad0"/><rect x="209.9" y="400.8" width="1.3" height="2.0" fill="#2f62b0"/><rect x="168.4" y="406.0" width="1.7" height="0.9" fill="#2f62b0"/><rect x="239.5" y="415.3" width="2.4" height="1.1" fill="#3f74c0"/><rect x="187.1" y="404.8" width="1.8" height="2.1" fill="#5a8ad0"/><rect x="161.8" y="419.6" width="2.1" height="0.9" fill="#5a8ad0"/><rect x="198.7" y="401.2" width="1.6" height="1.8" fill="#f4f6fa"/><rect x="191.7" y="417.7" width="1.8" height="1.4" fill="#1f4a98"/><rect x="167.0" y="415.6" width="1.3" height="1.3" fill="#2f62b0"/><rect x="186.8" y="403.3" width="1.2" height="1.1" fill="#5a8ad0"/><rect x="158.4" y="408.9" width="3.0" height="1.8" fill="#f4f6fa"/><rect x="146.1" y="407.7" width="1.0" height="1.8" fill="#3f74c0"/><rect x="154.4" y="400.4" width="1.2" height="1.2" fill="#5a8ad0"/><rect x="231.0" y="414.3" width="1.4" height="1.3" fill="#2f62b0"/><rect x="232.5" y="407.2" width="2.5" height="1.8" fill="#f4f6fa"/><rect x="124.4" y="406.4" width="1.6" height="0.9" fill="#f4f6fa"/><rect x="160.4" y="415.4" width="1.9" height="0.9" fill="#5a8ad0"/><rect x="150.1" y="400.8" width="1.1" height="1.6" fill="#2f62b0"/><rect x="158.8" y="408.5" width="2.0" height="1.0" fill="#b8c4d4"/><rect x="152.7" y="414.5" width="2.3" height="1.0" fill="#3f74c0"/><rect x="155.1" y="414.3" width="1.7" height="1.3" fill="#f4f6fa"/><rect x="148.7" y="405.8" width="1.6" height="1.1" fill="#2f62b0"/><rect x="124.9" y="412.6" width="2.0" height="1.9" fill="#7aa0d0"/><rect x="157.2" y="413.4" width="2.8" height="1.1" fill="#b8c4d4"/><rect x="200.7" y="419.1" width="2.7" height="1.1" fill="#b8c4d4"/><rect x="132.6" y="408.6" width="1.7" height="0.9" fill="#5a8ad0"/><rect x="160.7" y="409.9" width="1.4" height="1.0" fill="#5a8ad0"/><rect x="178.1" y="403.3" width="2.3" height="1.1" fill="#2f62b0"/><rect x="162.3" y="408.4" width="1.1" height="1.6" fill="#b8c4d4"/><rect x="187.3" y="414.0" width="0.9" height="1.3" fill="#5a8ad0"/><rect x="129.4" y="408.1" width="0.9" height="1.5" fill="#e2eaf2"/><rect x="177.3" y="406.5" width="1.4" height="0.8" fill="#3f74c0"/><rect x="227.2" y="411.3" width="1.4" height="1.7" fill="#2f62b0"/><rect x="177.4" y="412.3" width="2.9" height="1.3" fill="#e2eaf2"/><rect x="233.2" y="415.4" width="2.2" height="1.7" fill="#5a8ad0"/><rect x="171.0" y="405.5" width="2.6" height="2.0" fill="#5a8ad0"/><rect x="138.0" y="410.1" width="1.5" height="1.3" fill="#7aa0d0"/><rect x="139.7" y="403.8" width="1.3" height="1.8" fill="#3f74c0"/><rect x="122.1" y="410.9" width="1.7" height="1.1" fill="#e2eaf2"/><rect x="198.7" y="411.0" width="2.2" height="1.6" fill="#1f4a98"/><rect x="236.3" y="406.7" width="1.6" height="2.0" fill="#3f74c0"/><rect x="206.5" y="413.9" width="2.3" height="2.1" fill="#1f4a98"/><rect x="140.8" y="412.4" width="1.9" height="1.6" fill="#5a8ad0"/><rect x="155.7" y="415.0" width="2.0" height="1.1" fill="#3f74c0"/><rect x="160.3" y="403.6" width="1.9" height="1.0" fill="#2f62b0"/><rect x="130.1" y="402.0" width="2.4" height="1.0" fill="#5a8ad0"/><rect x="213.1" y="409.6" width="1.2" height="2.0" fill="#f4f6fa"/><rect x="128.3" y="405.1" width="1.9" height="1.9" fill="#5a8ad0"/><rect x="206.5" y="405.0" width="2.4" height="1.3" fill="#3f74c0"/><rect x="211.6" y="416.9" width="2.6" height="1.6" fill="#5a8ad0"/><rect x="205.4" y="412.5" width="2.6" height="1.9" fill="#2f62b0"/><rect x="166.5" y="413.4" width="1.3" height="1.1" fill="#2f62b0"/><rect x="191.1" y="418.8" width="2.9" height="1.0" fill="#b8c4d4"/><rect x="171.5" y="412.6" width="1.7" height="2.1" fill="#d8e070"/><rect x="127.7" y="414.3" width="1.1" height="0.9" fill="#3f74c0"/><rect x="208.3" y="419.9" width="1.1" height="1.3" fill="#2f62b0"/><rect x="186.0" y="409.7" width="1.6" height="1.2" fill="#1f4a98"/><rect x="221.0" y="405.7" width="1.7" height="1.7" fill="#1f4a98"/><rect x="237.8" y="407.8" width="2.3" height="1.6" fill="#1f4a98"/><rect x="139.3" y="403.5" width="1.0" height="2.1" fill="#3f74c0"/><rect x="179.6" y="402.4" width="1.5" height="0.8" fill="#e2eaf2"/><rect x="138.9" y="412.5" width="1.4" height="1.1" fill="#5a8ad0"/><rect x="165.2" y="405.2" width="0.9" height="0.9" fill="#f4f6fa"/><rect x="158.5" y="401.6" width="1.2" height="1.5" fill="#d8e070"/><rect x="145.9" y="417.3" width="1.9" height="1.4" fill="#1f4a98"/><rect x="168.7" y="401.2" width="2.0" height="1.7" fill="#b8c4d4"/><rect x="154.7" y="418.8" width="2.7" height="2.2" fill="#5a8ad0"/><rect x="220.4" y="414.5" width="1.2" height="0.8" fill="#2f62b0"/><rect x="136.0" y="401.5" width="1.6" height="1.9" fill="#3f74c0"/><rect x="182.7" y="400.2" width="1.3" height="2.1" fill="#2f62b0"/><rect x="184.2" y="416.2" width="2.5" height="1.8" fill="#5a8ad0"/><rect x="216.8" y="416.6" width="2.5" height="2.2" fill="#2f62b0"/><rect x="234.1" y="408.0" width="2.4" height="1.2" fill="#7aa0d0"/><rect x="124.8" y="411.5" width="1.3" height="1.3" fill="#5a8ad0"/><rect x="199.5" y="416.2" width="1.6" height="1.7" fill="#3f74c0"/><rect x="154.9" y="418.1" width="1.5" height="0.9" fill="#3f74c0"/><rect x="209.5" y="404.2" width="2.4" height="1.6" fill="#b8c4d4"/><rect x="142.9" y="402.1" width="1.1" height="1.3" fill="#5a8ad0"/><rect x="123.1" y="410.1" width="1.7" height="1.3" fill="#e2eaf2"/><rect x="234.4" y="404.1" width="2.7" height="1.2" fill="#1f4a98"/><rect x="134.8" y="419.8" width="1.7" height="2.1" fill="#3f74c0"/><rect x="170.2" y="414.1" width="1.2" height="1.2" fill="#b8c4d4"/><rect x="233.8" y="406.4" width="1.2" height="1.3" fill="#d8e070"/><rect x="139.5" y="412.7" width="1.6" height="1.7" fill="#3f74c0"/><rect x="194.7" y="417.8" width="2.7" height="1.7" fill="#e2eaf2"/><rect x="189.0" y="402.3" width="2.6" height="1.8" fill="#5a8ad0"/><rect x="200.5" y="408.4" width="1.6" height="1.1" fill="#e2eaf2"/><rect x="189.6" y="410.3" width="0.9" height="1.7" fill="#5a8ad0"/><rect x="192.0" y="411.9" width="2.8" height="1.0" fill="#5a8ad0"/><rect x="239.2" y="414.8" width="1.5" height="1.8" fill="#d8e070"/><rect x="169.4" y="417.3" width="1.1" height="2.2" fill="#e2eaf2"/><rect x="149.6" y="416.8" width="2.2" height="2.1" fill="#1f4a98"/><rect x="216.1" y="410.2" width="3.0" height="0.9" fill="#f4f6fa"/><rect x="206.0" y="405.0" width="2.6" height="1.4" fill="#e2eaf2"/><rect x="155.0" y="412.9" width="1.0" height="1.6" fill="#1f4a98"/><rect x="179.9" y="404.8" width="2.6" height="2.0" fill="#1f4a98"/><rect x="186.8" y="418.1" width="2.6" height="1.0" fill="#5a8ad0"/><rect x="133.8" y="400.7" width="1.6" height="2.0" fill="#1f4a98"/><rect x="135.9" y="403.6" width="1.7" height="2.0" fill="#b8c4d4"/><rect x="238.6" y="404.1" width="2.2" height="2.0" fill="#1f4a98"/><rect x="145.3" y="413.4" width="1.7" height="0.8" fill="#3f74c0"/><rect x="159.2" y="412.6" width="1.4" height="1.6" fill="#b8c4d4"/><rect x="143.3" y="402.6" width="2.3" height="1.5" fill="#2f62b0"/><rect x="135.7" y="418.8" width="2.1" height="1.3" fill="#2f62b0"/><rect x="239.4" y="413.8" width="2.4" height="1.3" fill="#3f74c0"/><rect x="170.2" y="402.9" width="2.2" height="1.4" fill="#1f4a98"/><rect x="170.3" y="409.1" width="1.9" height="2.1" fill="#3f74c0"/><rect x="205.0" y="404.7" width="2.1" height="1.2" fill="#f4f6fa"/><rect x="155.8" y="417.1" width="2.3" height="1.4" fill="#7aa0d0"/><rect x="167.7" y="414.9" width="2.1" height="1.4" fill="#2f62b0"/><rect x="171.5" y="405.6" width="1.8" height="2.1" fill="#3f74c0"/><rect x="204.0" y="413.4" width="1.3" height="1.4" fill="#2f62b0"/><rect x="227.7" y="405.0" width="1.7" height="1.3" fill="#1f4a98"/><rect x="222.3" y="411.8" width="2.0" height="0.9" fill="#f4f6fa"/><rect x="132.4" y="407.3" width="1.6" height="1.8" fill="#b8c4d4"/><rect x="162.6" y="418.0" width="2.9" height="0.8" fill="#b8c4d4"/><rect x="177.4" y="407.2" width="1.8" height="1.2" fill="#b8c4d4"/><rect x="193.5" y="419.4" width="2.9" height="2.2" fill="#5a8ad0"/><rect x="219.8" y="413.0" width="2.3" height="2.2" fill="#2f62b0"/><rect x="176.5" y="408.0" width="2.2" height="1.1" fill="#d8e070"/><rect x="146.7" y="407.4" width="1.1" height="1.4" fill="#1f4a98"/><rect x="131.9" y="403.3" width="2.2" height="1.7" fill="#1f4a98"/><rect x="151.9" y="416.2" width="2.4" height="1.9" fill="#2f62b0"/><rect x="177.3" y="400.3" width="2.7" height="2.1" fill="#f4f6fa"/><rect x="124.9" y="407.0" width="2.0" height="1.5" fill="#2f62b0"/><rect x="215.1" y="406.0" width="1.9" height="1.0" fill="#e2eaf2"/><rect x="137.3" y="401.8" width="1.9" height="1.2" fill="#1f4a98"/><rect x="151.1" y="408.3" width="0.9" height="1.1" fill="#5a8ad0"/><rect x="187.9" y="409.2" width="2.7" height="0.9" fill="#f4f6fa"/><rect x="140.3" y="419.4" width="2.0" height="1.4" fill="#b8c4d4"/><rect x="223.9" y="419.3" width="1.7" height="0.8" fill="#2f62b0"/><rect x="218.6" y="414.7" width="2.4" height="1.0" fill="#e2eaf2"/><rect x="125.4" y="402.2" width="1.5" height="2.2" fill="#b8c4d4"/><rect x="171.1" y="401.6" width="1.4" height="1.0" fill="#7aa0d0"/><rect x="160.8" y="409.8" width="2.2" height="2.0" fill="#7aa0d0"/><rect x="189.0" y="410.0" width="2.8" height="1.4" fill="#3f74c0"/><rect x="209.2" y="405.2" width="1.6" height="1.4" fill="#5a8ad0"/><rect x="164.3" y="408.6" width="1.8" height="0.9" fill="#1f4a98"/><rect x="129.3" y="410.6" width="2.0" height="1.4" fill="#3f74c0"/><rect x="133.7" y="407.4" width="1.5" height="1.5" fill="#3f74c0"/><rect x="210.4" y="409.7" width="0.8" height="1.4" fill="#7aa0d0"/><rect x="122.8" y="411.9" width="2.9" height="1.3" fill="#e2eaf2"/><rect x="165.5" y="406.0" width="2.1" height="1.6" fill="#3f74c0"/><rect x="180.7" y="410.3" width="2.5" height="0.9" fill="#2f62b0"/><rect x="151.7" y="405.4" width="2.6" height="1.4" fill="#f4f6fa"/><rect x="169.5" y="405.7" width="2.3" height="0.9" fill="#7aa0d0"/><rect x="220.1" y="406.6" width="1.5" height="1.9" fill="#1f4a98"/><rect x="197.8" y="401.1" width="2.5" height="0.9" fill="#b8c4d4"/><rect x="187.1" y="418.5" width="2.2" height="0.8" fill="#7aa0d0"/><rect x="210.8" y="411.6" width="0.8" height="1.8" fill="#5a8ad0"/><rect x="202.2" y="419.7" width="2.8" height="0.9" fill="#1f4a98"/><rect x="174.0" y="415.0" width="1.6" height="1.4" fill="#5a8ad0"/><rect x="135.9" y="406.4" width="2.4" height="0.9" fill="#2f62b0"/><rect x="220.4" y="413.3" width="2.0" height="1.0" fill="#2f62b0"/><rect x="158.6" y="419.1" width="2.0" height="2.1" fill="#3f74c0"/><rect x="170.9" y="410.7" width="2.6" height="1.0" fill="#f4f6fa"/><rect x="177.7" y="400.6" width="1.8" height="1.3" fill="#b8c4d4"/><rect x="231.5" y="409.9" width="2.3" height="1.3" fill="#1f4a98"/><rect x="134.4" y="414.8" width="1.2" height="1.6" fill="#3f74c0"/><rect x="162.9" y="403.3" width="1.6" height="1.6" fill="#e2eaf2"/><rect x="167.8" y="411.5" width="2.7" height="1.3" fill="#e2eaf2"/><rect x="178.7" y="419.6" width="1.5" height="1.8" fill="#3f74c0"/><rect x="152.8" y="414.6" width="2.1" height="1.2" fill="#2f62b0"/><rect x="219.3" y="407.6" width="2.4" height="1.4" fill="#b8c4d4"/><rect x="188.0" y="419.5" width="2.8" height="1.4" fill="#e2eaf2"/><rect x="149.3" y="415.1" width="1.0" height="1.2" fill="#f4f6fa"/><rect x="126.1" y="414.0" width="2.0" height="1.6" fill="#3f74c0"/><rect x="139.9" y="419.0" width="2.5" height="1.9" fill="#2f62b0"/><rect x="214.5" y="404.4" width="1.2" height="1.5" fill="#b8c4d4"/><rect x="136.3" y="415.3" width="2.1" height="2.1" fill="#7aa0d0"/><rect x="203.3" y="407.3" width="2.9" height="1.8" fill="#3f74c0"/><rect x="223.2" y="414.5" width="1.4" height="1.1" fill="#2f62b0"/><rect x="185.4" y="405.1" width="1.4" height="1.2" fill="#2f62b0"/><rect x="179.2" y="405.5" width="1.4" height="1.2" fill="#e2eaf2"/><rect x="223.4" y="417.1" width="2.1" height="1.6" fill="#1f4a98"/><rect x="185.1" y="413.2" width="2.8" height="1.9" fill="#3f74c0"/><rect x="128.4" y="418.7" width="1.6" height="1.9" fill="#3f74c0"/><rect x="175.4" y="407.4" width="2.4" height="2.1" fill="#e2eaf2"/><rect x="188.8" y="407.0" width="1.3" height="2.1" fill="#2f62b0"/><rect x="233.0" y="413.1" width="1.0" height="2.1" fill="#2f62b0"/><rect x="188.7" y="402.4" width="3.0" height="1.2" fill="#f4f6fa"/><rect x="129.2" y="413.3" width="0.9" height="0.8" fill="#e2eaf2"/><rect x="238.0" y="413.7" width="2.7" height="1.9" fill="#e2eaf2"/><rect x="131.1" y="410.5" width="1.2" height="1.5" fill="#3f74c0"/><rect x="180.9" y="404.0" width="2.4" height="1.4" fill="#e2eaf2"/><rect x="131.3" y="409.7" width="2.0" height="2.2" fill="#e2eaf2"/><rect x="137.9" y="406.0" width="1.5" height="1.8" fill="#7aa0d0"/><rect x="237.2" y="419.0" width="2.8" height="2.0" fill="#7aa0d0"/><rect x="124.4" y="409.8" width="2.1" height="1.8" fill="#b8c4d4"/><rect x="194.4" y="418.7" width="1.0" height="1.5" fill="#7aa0d0"/><rect x="125.8" y="402.2" width="2.7" height="2.1" fill="#2f62b0"/><rect x="125.8" y="416.6" width="2.3" height="1.5" fill="#e2eaf2"/><rect x="211.4" y="416.2" width="0.8" height="0.9" fill="#1f4a98"/><rect x="237.1" y="416.7" width="1.7" height="1.3" fill="#3f74c0"/><rect x="123.8" y="415.4" width="1.4" height="1.6" fill="#e2eaf2"/><rect x="161.6" y="413.5" width="1.8" height="1.1" fill="#f4f6fa"/><rect x="142.7" y="403.0" width="1.4" height="1.5" fill="#1f4a98"/><rect x="161.3" y="404.8" width="2.2" height="1.2" fill="#e2eaf2"/><rect x="152.1" y="417.5" width="1.2" height="1.1" fill="#3f74c0"/><rect x="160.9" y="414.5" width="2.3" height="1.9" fill="#e2eaf2"/><rect x="131.3" y="415.3" width="1.3" height="1.1" fill="#5a8ad0"/><rect x="238.8" y="407.4" width="1.6" height="2.1" fill="#d8e070"/><rect x="167.7" y="402.7" width="2.5" height="1.9" fill="#3f74c0"/><rect x="215.3" y="407.6" width="1.4" height="1.6" fill="#1f4a98"/><rect x="178.2" y="416.4" width="0.8" height="1.5" fill="#5a8ad0"/><rect x="129.7" y="418.3" width="1.1" height="1.1" fill="#f4f6fa"/><rect x="235.3" y="418.6" width="1.6" height="2.1" fill="#2f62b0"/><rect x="206.3" y="418.9" width="1.2" height="1.0" fill="#b8c4d4"/><rect x="226.1" y="414.5" width="2.9" height="1.4" fill="#5a8ad0"/><rect x="136.2" y="405.5" width="2.9" height="0.9" fill="#2f62b0"/><rect x="163.0" y="401.0" width="1.5" height="1.1" fill="#2f62b0"/><rect x="184.2" y="410.8" width="2.0" height="1.9" fill="#e2eaf2"/><rect x="148.3" y="401.5" width="1.5" height="1.9" fill="#7aa0d0"/><rect x="181.4" y="403.2" width="1.5" height="1.6" fill="#3f74c0"/><rect x="215.5" y="419.5" width="1.8" height="1.6" fill="#1f4a98"/><rect x="176.9" y="403.8" width="2.9" height="2.2" fill="#2f62b0"/><rect x="212.0" y="408.0" width="0.9" height="1.0" fill="#2f62b0"/><rect x="208.9" y="404.2" width="0.8" height="1.1" fill="#1f4a98"/><rect x="180.9" y="413.1" width="1.8" height="1.1" fill="#2f62b0"/><rect x="157.9" y="400.8" width="1.4" height="1.7" fill="#5a8ad0"/><rect x="177.8" y="412.5" width="1.5" height="1.3" fill="#f4f6fa"/><rect x="190.6" y="408.3" width="2.0" height="1.4" fill="#3f74c0"/><rect x="229.8" y="404.7" width="2.9" height="2.0" fill="#f4f6fa"/><rect x="141.2" y="410.2" width="3.0" height="1.2" fill="#2f62b0"/><rect x="207.4" y="404.7" width="2.1" height="1.0" fill="#7aa0d0"/><rect x="155.5" y="401.9" width="2.3" height="1.3" fill="#e2eaf2"/><rect x="180.7" y="418.5" width="1.9" height="1.3" fill="#2f62b0"/><rect x="180.6" y="405.4" width="2.1" height="1.7" fill="#5a8ad0"/><rect x="132.6" y="410.0" width="1.9" height="1.7" fill="#7aa0d0"/><rect x="155.1" y="408.9" width="1.0" height="1.9" fill="#3f74c0"/><rect x="219.8" y="416.0" width="1.4" height="2.1" fill="#e2eaf2"/><rect x="172.3" y="411.1" width="2.9" height="1.5" fill="#5a8ad0"/><rect x="156.3" y="416.8" width="1.9" height="1.3" fill="#2f62b0"/><rect x="147.4" y="416.7" width="2.6" height="2.2" fill="#7aa0d0"/><rect x="202.8" y="415.9" width="2.4" height="1.9" fill="#1f4a98"/><rect x="142.8" y="416.3" width="1.5" height="1.1" fill="#7aa0d0"/><rect x="124.7" y="410.2" width="1.6" height="1.9" fill="#b8c4d4"/><rect x="229.5" y="418.7" width="2.2" height="0.9" fill="#b8c4d4"/><rect x="134.9" y="419.6" width="2.7" height="1.2" fill="#2f62b0"/><rect x="203.9" y="415.2" width="3.0" height="1.7" fill="#2f62b0"/><rect x="207.8" y="401.2" width="2.7" height="1.9" fill="#1f4a98"/><rect x="225.1" y="411.4" width="2.9" height="1.7" fill="#e2eaf2"/><rect x="167.4" y="407.1" width="0.9" height="1.0" fill="#1f4a98"/><rect x="149.0" y="413.1" width="2.5" height="1.8" fill="#e2eaf2"/><rect x="159.3" y="405.5" width="1.2" height="1.7" fill="#b8c4d4"/><rect x="233.2" y="406.6" width="2.8" height="2.1" fill="#3f74c0"/><rect x="234.3" y="412.4" width="2.9" height="1.9" fill="#3f74c0"/><rect x="155.0" y="410.5" width="1.9" height="0.8" fill="#f4f6fa"/><rect x="185.2" y="409.5" width="2.4" height="1.1" fill="#2f62b0"/><rect x="190.5" y="404.8" width="1.5" height="0.9" fill="#2f62b0"/><rect x="163.9" y="410.5" width="2.9" height="1.7" fill="#5a8ad0"/><rect x="170.0" y="404.7" width="1.8" height="2.1" fill="#2f62b0"/><rect x="173.1" y="413.7" width="2.5" height="1.6" fill="#b8c4d4"/><rect x="232.7" y="418.1" width="1.4" height="1.6" fill="#d8e070"/><rect x="184.3" y="403.8" width="2.5" height="0.9" fill="#2f62b0"/><rect x="187.1" y="405.5" width="2.4" height="1.8" fill="#3f74c0"/><rect x="212.5" y="413.0" width="2.4" height="1.4" fill="#5a8ad0"/><rect x="134.6" y="409.5" width="2.9" height="2.0" fill="#2f62b0"/><rect x="130.4" y="405.4" width="2.3" height="1.4" fill="#2f62b0"/><rect x="172.2" y="411.5" width="2.4" height="1.4" fill="#b8c4d4"/><rect x="202.4" y="412.3" width="0.9" height="1.8" fill="#2f62b0"/><rect x="128.5" y="409.5" width="0.8" height="0.9" fill="#5a8ad0"/><rect x="177.3" y="402.1" width="2.9" height="2.0" fill="#e2eaf2"/><rect x="191.4" y="406.3" width="3.0" height="1.0" fill="#3f74c0"/><rect x="148.1" y="417.3" width="1.9" height="1.4" fill="#5a8ad0"/></g>
<g opacity="0.8"><rect x="227.6" y="430.8" width="2.4" height="1.2" fill="#3a70c0"/><rect x="170.2" y="438.3" width="1.9" height="1.0" fill="#a0b0c8"/><rect x="132.6" y="456.6" width="1.9" height="1.2" fill="#3a70c0"/><rect x="226.8" y="439.1" width="2.4" height="1.2" fill="#a0b0c8"/><rect x="218.1" y="459.1" width="2.5" height="1.0" fill="#3a70c0"/><rect x="209.6" y="459.9" width="1.9" height="1.3" fill="#a0b0c8"/><rect x="154.9" y="452.4" width="2.1" height="1.1" fill="#5ec4ee"/><rect x="222.4" y="434.5" width="1.5" height="1.3" fill="#a0b0c8"/><rect x="154.3" y="436.7" width="2.5" height="1.1" fill="#f0f4f8"/><rect x="184.8" y="422.2" width="2.7" height="1.1" fill="#f0f4f8"/><rect x="194.9" y="449.9" width="2.5" height="1.3" fill="#5ec4ee"/><rect x="157.7" y="449.6" width="2.1" height="1.6" fill="#a0b0c8"/><rect x="145.0" y="452.8" width="2.6" height="1.2" fill="#5ec4ee"/><rect x="132.4" y="451.8" width="2.1" height="1.2" fill="#5ec4ee"/><rect x="148.4" y="446.3" width="2.3" height="1.0" fill="#a0b0c8"/><rect x="218.7" y="437.6" width="1.2" height="0.8" fill="#f0f4f8"/><rect x="180.9" y="443.4" width="2.1" height="1.6" fill="#a0b0c8"/><rect x="168.8" y="451.9" width="1.0" height="1.2" fill="#3a70c0"/><rect x="148.5" y="435.3" width="1.8" height="1.0" fill="#f0f4f8"/><rect x="169.4" y="442.6" width="2.1" height="1.1" fill="#3a70c0"/><rect x="174.5" y="453.1" width="1.4" height="0.8" fill="#f0f4f8"/><rect x="230.2" y="446.8" width="2.5" height="1.0" fill="#3a70c0"/><rect x="183.8" y="449.2" width="2.3" height="1.0" fill="#3a70c0"/><rect x="166.4" y="446.2" width="2.4" height="1.1" fill="#5ec4ee"/><rect x="226.6" y="429.2" width="2.4" height="0.8" fill="#a0b0c8"/><rect x="230.9" y="453.1" width="2.2" height="1.6" fill="#5ec4ee"/><rect x="154.6" y="429.4" width="1.3" height="1.6" fill="#5ec4ee"/><rect x="167.5" y="438.5" width="1.4" height="0.9" fill="#a0b0c8"/><rect x="195.2" y="452.1" width="1.7" height="1.4" fill="#a0b0c8"/><rect x="153.8" y="457.1" width="2.0" height="0.8" fill="#f0f4f8"/><rect x="184.2" y="448.1" width="2.5" height="1.3" fill="#3a70c0"/><rect x="233.5" y="421.0" width="1.1" height="1.1" fill="#5ec4ee"/><rect x="238.3" y="445.2" width="1.1" height="0.9" fill="#a0b0c8"/><rect x="132.3" y="449.3" width="2.1" height="0.8" fill="#f0f4f8"/><rect x="146.8" y="448.5" width="1.9" height="1.0" fill="#3a70c0"/><rect x="191.7" y="434.9" width="1.0" height="1.5" fill="#5ec4ee"/><rect x="163.0" y="420.6" width="1.6" height="1.3" fill="#5ec4ee"/><rect x="159.6" y="424.7" width="1.9" height="1.2" fill="#3a70c0"/><rect x="164.3" y="457.3" width="2.4" height="1.2" fill="#a0b0c8"/><rect x="175.4" y="436.4" width="1.9" height="1.2" fill="#5ec4ee"/><rect x="188.6" y="453.1" width="1.6" height="1.0" fill="#f0f4f8"/><rect x="173.1" y="447.2" width="2.2" height="1.0" fill="#3a70c0"/><rect x="151.0" y="456.5" width="2.4" height="1.4" fill="#a0b0c8"/><rect x="180.0" y="436.7" width="2.8" height="1.6" fill="#f0f4f8"/><rect x="230.9" y="455.1" width="1.2" height="1.2" fill="#3a70c0"/><rect x="166.9" y="437.9" width="1.1" height="1.0" fill="#5ec4ee"/><rect x="169.2" y="460.1" width="1.0" height="0.9" fill="#3a70c0"/><rect x="172.8" y="446.9" width="1.9" height="1.6" fill="#3a70c0"/><rect x="228.6" y="444.8" width="2.2" height="0.9" fill="#3a70c0"/><rect x="181.0" y="457.8" width="1.4" height="1.2" fill="#a0b0c8"/><rect x="189.8" y="434.1" width="1.0" height="1.4" fill="#3a70c0"/><rect x="231.7" y="445.4" width="2.5" height="1.1" fill="#f0f4f8"/><rect x="235.4" y="443.5" width="3.0" height="0.9" fill="#3a70c0"/><rect x="150.7" y="453.5" width="2.5" height="0.8" fill="#f0f4f8"/><rect x="133.8" y="453.5" width="2.6" height="1.3" fill="#f0f4f8"/><rect x="211.4" y="457.2" width="2.6" height="1.5" fill="#5ec4ee"/><rect x="211.6" y="433.4" width="2.2" height="1.5" fill="#3a70c0"/><rect x="134.8" y="443.7" width="2.8" height="1.3" fill="#a0b0c8"/><rect x="172.6" y="447.2" width="2.0" height="1.6" fill="#a0b0c8"/><rect x="156.4" y="431.7" width="2.3" height="0.9" fill="#f0f4f8"/></g>
<rect x="180" y="437" width="12" height="3" fill="#5cc8f0"/><rect x="195" y="437.5" width="12" height="3" fill="#5cc8f0"/><rect x="148" y="442" width="18" height="2.5" fill="#78b8ec"/>
<path d="M152,418 L130,464 L136,464 L156,418 Z" fill="#dfe4ea"/>
<path d="M151.5,418 L129.5,464 M156.5,418 L136.5,464" stroke="#28303c" stroke-width="0.9" fill="none"/>
<path d="M174.8,402 L174.8,464 M183.8,406 L196,446 M196,404 L220,440" stroke="#2a323e" stroke-width="1.2" fill="none"/>
<path d="M176.3,402 L176.3,446 M185.5,406 L197.5,440" stroke="#e8ecf0" stroke-width="0.8" fill="none"/>
<path d="M101,440 L146,432 L132,464 L101,464 Z" fill="#142448"/>
<path d="M101,452 L140,440" stroke="#3a4a68" stroke-width="1.5"/>
<rect x="101.5" y="412.5" width="31" height="27" fill="#0c1e50" opacity="0.92"/>
<rect x="103" y="416" width="28" height="2.6" fill="#1a3c84"/><rect x="103" y="416.2" width="14.6" height="2.2" fill="#2a5cb8"/><rect x="112" y="416.8" width="5" height="1" fill="#c0d2ee"/>
<rect x="103" y="420.5" width="28" height="2.6" fill="#1a3c84"/><rect x="103" y="420.7" width="15.3" height="2.2" fill="#2a5cb8"/><rect x="112" y="421.3" width="5" height="1" fill="#c0d2ee"/>
<rect x="103" y="424.5" width="28" height="2.6" fill="#1a3c84"/><rect x="103" y="424.7" width="16.1" height="2.2" fill="#2a5cb8"/><rect x="112" y="425.3" width="5" height="1" fill="#c0d2ee"/>
<rect x="103" y="428.5" width="28" height="2.6" fill="#1a3c84"/><rect x="103" y="428.7" width="23.8" height="2.2" fill="#2a5cb8"/><rect x="112" y="429.3" width="5" height="1" fill="#c0d2ee"/>
<rect x="103" y="432.5" width="28" height="2.6" fill="#1a3c84"/><rect x="103" y="432.7" width="21.8" height="2.2" fill="#2a5cb8"/><rect x="112" y="433.3" width="5" height="1" fill="#c0d2ee"/>
<rect x="103" y="441" width="26" height="1" fill="#5a7ab8"/><rect x="105" y="444.5" width="4" height="1.5" fill="#d0dcf0"/><rect x="124" y="444.5" width="3" height="1.5" fill="#8aa0c8"/>
</g></svg>
<rect x="101.2" y="384.3" width="143" height="5.5" fill="#081538"/>
<rect x="157.5" y="385.5" width="32.5" height="4" fill="#2a64c8"/><rect x="160" y="386.8" width="27" height="1.3" fill="#c4d8f6"/>
<path d="M101.5,390.2 H152 M195,390.2 H244" stroke="#2a58a4" stroke-width="0.6"/>
<rect x="109" y="386.5" width="10" height="1" fill="#8aa0c8"/><rect x="221" y="386.5" width="15" height="1" fill="#8aa0c8"/><rect x="104" y="391.5" width="12" height="0.8" fill="#6a84b8"/>
<rect x="108.5" y="394.5" width="3.8" height="2.6" fill="#dce8f8"/><rect x="107.3" y="397.8" width="6.2" height="1.1" fill="#3a78d0"/>
<rect x="122.5" y="394.5" width="3.8" height="2.6" fill="#dce8f8"/><rect x="121.3" y="397.8" width="6.2" height="1.1" fill="#3a78d0"/>
<rect x="108.5" y="402" width="3.8" height="2.6" fill="#dce8f8"/><rect x="107.3" y="405.3" width="6.2" height="1.1" fill="#3a78d0"/>
<rect x="122.5" y="402" width="3.8" height="2.6" fill="#dce8f8"/><rect x="121.3" y="405.3" width="6.2" height="1.1" fill="#3a78d0"/>
<circle cx="220.7" cy="399.2" r="4.3" fill="#0b1a45" stroke="#e8702a" stroke-width="1.4"/><rect x="220.1" y="397.3" width="1.2" height="3" fill="#e8eef8"/>
<circle cx="220.7" cy="409" r="3" fill="#10224e" stroke="#c8d8ee" stroke-width="0.6"/>
<circle cx="228.6" cy="430.2" r="5.8" fill="none" stroke="#f08a2a" stroke-width="1.5"/><circle cx="228.6" cy="430.2" r="3.8" fill="#1e5ab0" stroke="#28c0e8" stroke-width="1"/>
<rect x="228.5" y="395" width="1.5" height="1.5" fill="#e04040"/><rect x="231.5" y="395.2" width="8" height="1" fill="#7890b8"/>
<rect x="228.5" y="398.2" width="1.5" height="1.5" fill="#f0a030"/><rect x="231.5" y="398.4" width="8" height="1" fill="#7890b8"/>
<rect x="228.5" y="401.4" width="1.5" height="1.5" fill="#40c060"/><rect x="231.5" y="401.59999999999997" width="8" height="1" fill="#7890b8"/>
<rect x="228.5" y="404.6" width="1.5" height="1.5" fill="#30a0e0"/><rect x="231.5" y="404.8" width="8" height="1" fill="#7890b8"/>
<rect x="228.5" y="407.8" width="1.5" height="1.5" fill="#a0d040"/><rect x="231.5" y="408.0" width="8" height="1" fill="#7890b8"/>
<path d="M238.5,398 L241,388 L243.5,398 Z" fill="#5a6a88" opacity="0.7"/>
<rect x="213" y="412" width="8" height="1.5" fill="#e0e840"/>
<rect x="176" y="441.5" width="68.2" height="21.8" fill="url(#green)"/>
<rect x="101.2" y="440" width="143" height="23.3" fill="url(#vign)"/>
<circle cx="142" cy="456" r="1.3" fill="#dfe8f6" opacity="0.85"/>
<circle cx="149.7" cy="456" r="1.3" fill="#dfe8f6" opacity="0.85"/>
<circle cx="157" cy="456" r="1.3" fill="#dfe8f6" opacity="0.85"/>
<circle cx="164.6" cy="456" r="1.3" fill="#dfe8f6" opacity="0.85"/>
<circle cx="172" cy="456" r="1.3" fill="#dfe8f6" opacity="0.85"/>
<circle cx="183" cy="456" r="1.3" fill="#dfe8f6" opacity="0.85"/>
<circle cx="190" cy="456" r="1.3" fill="#dfe8f6" opacity="0.85"/>
<circle cx="197.5" cy="456" r="1.3" fill="#dfe8f6" opacity="0.85"/>
<circle cx="205" cy="456" r="1.3" fill="#dfe8f6" opacity="0.85"/>
<rect x="101.2" y="384.3" width="143" height="79" fill="none" stroke="#1f3d7a" stroke-width="0.6"/>
</g>
<g id="lines" stroke="#4b66d2" stroke-opacity="0.85" stroke-width="1.65" stroke-linejoin="round" fill="none">
<path d="M172.2,108 V74.6 H349"/>
<path d="M423,74.6 H536.3 V168"/>
<path d="M234,161.7 H357.3 V221 H482"/>
<path d="M272,161.7 V295.3 H297.5"/>
<path d="M344.8,295.3 H375.5 V341.8 H405.6"/>
<path d="M448,342 H535.5 V274"/>
<path d="M172.4,216 V251"/>
<path d="M172.8,354 V384.5"/>
</g>
<g fill="#4a6fe3">
<path d="M168.8,107 L175.6,107 L172.2,116.5 Z"/>
<path d="M348,71.2 L348,78 L357.5,74.6 Z"/>
<path d="M423.5,71.2 L423.5,78 L414,74.6 Z"/>
<path d="M532.9,167 L539.7,167 L536.3,176.8 Z"/>
<path d="M234,158.4 L234,165 L224,161.7 Z"/>
<path d="M481,217.6 L481,224.4 L491.3,221 Z"/>
<path d="M448.5,338.6 L448.5,345.4 L438.7,342 Z"/>
<path d="M532.1,274.5 L538.9,274.5 L535.5,264.8 Z"/>
<path d="M168.7,217.8 L176.1,217.8 L172.4,207.5 Z"/>
<path d="M168.7,249 L176.1,249 L172.4,259.3 Z"/>
</g>
<g stroke="#6cc957" stroke-width="1.6" fill="none">
<path d="M421.4,376 V390.3"/>
<path d="M350.9,390.3 H488.4 M350.9,390.3 V414 M421.2,390.3 V414 M488.4,390.3 V414" stroke-dasharray="5.7 2.8" stroke="#84d270" stroke-width="1.5"/>
</g>
<path d="M417.8,377 L425.2,377 L421.5,366.7 Z" fill="#6cc957"/>
</svg>

<div class="t" style="left:87px;top:166px">服务器</div>
<div class="t" style="left:349px;top:118px;letter-spacing:0.45px">4G/5G基站</div>
<div class="t" style="left:458px;top:85.3px;letter-spacing:0.4px">4G/5G网络</div>
<div class="t" style="left:378px;top:204px">有线网络</div>
<div class="t" style="left:252.5px;top:179.6px">以</div>
<div class="t" style="left:252.5px;top:192.4px">太</div>
<div class="t" style="left:252.5px;top:206px">网</div>
<div class="t" style="left:257px;top:220.5px">/</div>
<div class="t" style="left:251.5px;top:235px">4G</div>
<div class="t" style="left:562px;top:273.5px;font-weight:normal;-webkit-text-stroke:0.35px #151515">LORA网关</div>
<div class="t" style="left:386px;top:303.3px;letter-spacing:0.7px">蓝牙定位卡</div>
<div class="t" style="left:478px;top:347px">无线LORA信号</div>
<div class="t" style="left:192.5px;top:340.5px;letter-spacing:0.2px">访问终端</div>
<div class="t" style="left:263.5px;top:354px;letter-spacing:0.5px">人脸识别发卡机</div>
<div class="t" style="left:131px;top:470px;letter-spacing:0.65px">定位系统平台</div>
<div class="t" style="left:321px;top:463px;letter-spacing:0.6px">蓝牙信标</div>
<div class="t" style="left:393px;top:463px;letter-spacing:0.6px">蓝牙信标</div>
<div class="t" style="left:458.5px;top:463px;letter-spacing:0.6px">蓝牙信标</div>
</body></html>
